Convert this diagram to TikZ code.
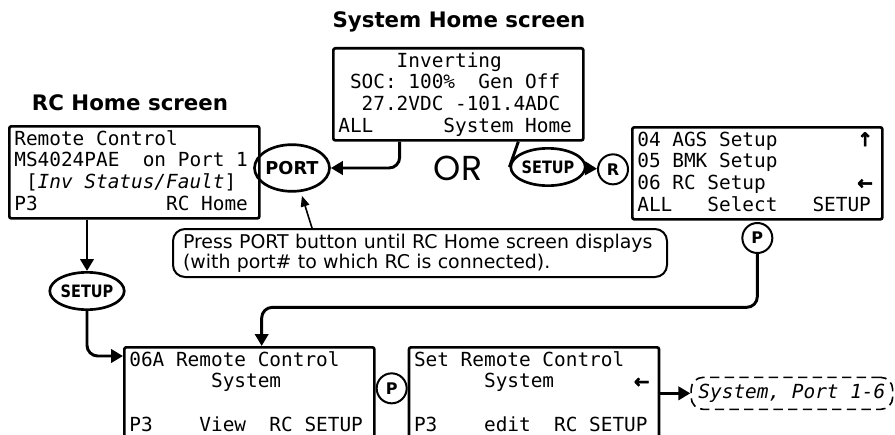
\documentclass[tikz,border=0pt]{standalone}
\usepackage{fontspec}
\setmainfont{DejaVu Sans}
\setsansfont{DejaVu Sans}
\setmonofont{DejaVu Sans Mono}[ItalicFont={DejaVu Sans Mono Oblique}, BoldFont={DejaVu Sans Mono Bold}]
\newfontfamily\orfont{Poppins}
\newfontfamily\keyfont{DejaVu Sans}[FakeStretch=0.85]
\newfontfamily\arrowfont{DejaVu Sans Bold}[FakeBold=2.5]
\usepackage{tikz}
\usetikzlibrary{arrows.meta, positioning, shapes.geometric, calc}
% fixed width blanks and arrow glyphs on the LCD screens
\newlength{\lcdch}
\newcommand{\lcdfont}{\ttfamily\fontsize{14.55}{16.25}\selectfont\settowidth{\lcdch}{0}}
\newcommand{\gap}[1]{\hspace*{#1\lcdch}}
\newcommand{\lcdarrow}[1]{\makebox[\lcdch]{\arrowfont\fontsize{14}{14}\selectfont #1}}

\begin{document}
\begin{tikzpicture}[
  x=0.75pt, y=-0.75pt,
  screen/.style={rectangle, draw, line width=2pt, rounded corners=1.5pt,
                 font=\lcdfont, align=left,
                 text width=180pt, inner xsep=3.75pt, inner ysep=0pt,
                 minimum height=69pt, execute at end node={\rule[-3pt]{0pt}{3pt}}},
  heading/.style={font=\sffamily\bfseries\fontsize{16}{16}\selectfont, anchor=base},
  btn/.style={ellipse, draw, line width=2pt, inner sep=0pt,
              font=\sffamily\bfseries\fontsize{13.3}{13.3}\selectfont},
  setupbtn/.style={btn, minimum width=47pt, minimum height=28pt,
                   font=\keyfont\bfseries\fontsize{12.8}{12.8}\selectfont},
  keyc/.style={circle, draw, line width=1.5pt, inner sep=0pt, minimum size=22.5pt,
               font=\sffamily\bfseries\fontsize{12}{12}\selectfont},
  note/.style={rectangle, draw, line width=1.5pt, rounded corners=9pt, align=left,
               font=\sffamily\fontsize{14.2}{13.5}\selectfont, text width=355.5pt,
               inner xsep=7.5pt, minimum height=36pt},
  opt/.style={rectangle, draw, line width=1.2pt, dash pattern=on 7pt off 4pt,
              rounded corners=9pt, font=\lcdfont\itshape,
              inner xsep=5.5pt, minimum height=24pt},
  arr/.style={-{Triangle[length=9pt,width=10pt]}, line width=2.2pt},
  thinarr/.style={-{Triangle[length=8pt,width=6.5pt]}, line width=1.2pt},
]
\path[use as bounding box, clip] (0,0) rectangle (895,435);

\node[heading] (systitle) at (459,28) {System Home screen};
\node[screen, anchor=north west] (sys) at (332,47)
  {\gap5Inverting\\
   \gap1SOC:\gap1100\%\gap2Gen\gap1Off\\
   \gap227.2VDC\gap1-101.4ADC\\
   ALL\gap6System\gap1Home};

\node[heading] (rctitle) at (130,110) {RC Home screen};
\node[screen, anchor=north west] (rchome) at (8,125)
  {Remote\gap1Control\\
   MS4024PAE\gap2on\gap1Port\gap11\\
   \gap1[\textit{Inv\gap1Status/Fault}]\\
   P3\gap{11}RC\gap1Home};

\node[screen, anchor=north west] (menu) at (631,126)
  {04\gap1AGS\gap1Setup\gap7\lcdarrow{↑}\\
   05\gap1BMK\gap1Setup\\
   06\gap1RC\gap1Setup\gap8\lcdarrow{←}\\
   ALL\gap3Select\gap3SETUP};

\node[btn, minimum width=49pt, minimum height=35pt] (port) at (292,168) {PORT};
\node[font=\orfont\fontsize{26}{26}\selectfont] (or) at (458,168) {OR};
\node[setupbtn] (setupa) at (548,167) {SETUP};
\node[keyc, left=1.5pt of menu, yshift=3pt] (rkey) {R};
\node[keyc, below=1pt of menu] (pmenu) {P};

\node[note] (tip) at (420,253)
  {Press PORT button until RC Home screen displays\\(with port\# to which RC is connected).};

\node[setupbtn] (setupb) at (87,291) {SETUP};

\node[screen, anchor=north west] (rcsys) at (123,346)
  {06A\gap1Remote\gap1Control\\
   \gap7System\\
   \gap1\\
   P3\gap4View\gap2RC\gap1SETUP};
\node[screen, right=24pt of rcsys] (setrc)
  {Set\gap1Remote\gap1Control\\
   \gap6System\gap7\lcdarrow{←}\\
   \gap1\\
   P3\gap4edit\gap2RC\gap1SETUP};
\node[keyc] (pmid) at ($(rcsys.east)!0.5!(setrc.west)+(0,-5)$) {P};
\node[opt, right=22.5pt of setrc] (portopt) {System,\gap1Port\gap11-6};

% arrows
\draw[arr, rounded corners=8pt] ([xshift=-44pt]sys.south) |- (port.east);
\draw[line width=2.2pt] ([xshift=45pt]sys.south) -- (setupa.west);
\draw[arr] (setupa) -- (rkey);
\draw[thinarr, shorten >=3pt] ([xshift=105pt]tip.north west) -- (port.-70);
\draw[arr] (rchome.south -| setupb) -- (setupb.north);
\draw[arr, rounded corners=8pt] (setupb.south) |- ([yshift=-7.5pt]rcsys.north west);
\draw[arr, rounded corners=8pt] (pmenu.south) |- ([xshift=104pt, yshift=29pt]rcsys.north west)
  -- ([xshift=104pt]rcsys.north west);
\draw[arr] (setrc.east) -- (portopt.west);

\end{tikzpicture}
\end{document}
